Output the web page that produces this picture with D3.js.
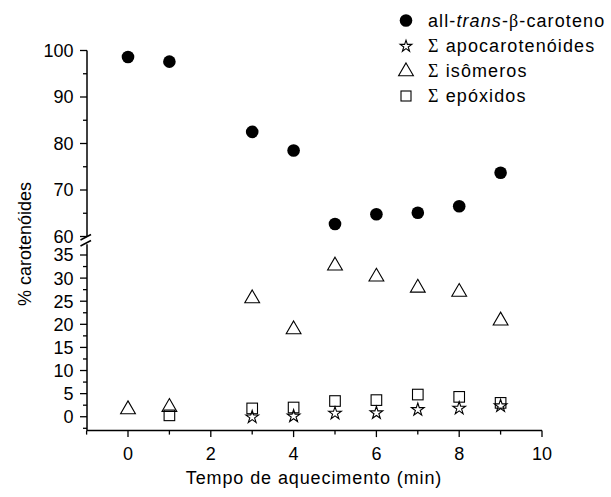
<!DOCTYPE html>
<html><head><meta charset="utf-8">
<script src="https://cdn.jsdelivr.net/npm/d3@7"></script>
<style>body{margin:0;background:#fff}svg{font-family:"Liberation Sans",Arial,sans-serif}</style>
</head><body><svg id="c" width="611" height="497"></svg>
<script>
const times = [0,1,3,4,5,6,7,8,9];
const allTrans = [98.6,97.6,82.5,78.5,62.7,64.8,65.1,66.5,73.7];
const isoX = [0,1,3,4,5,6,7,8,9];
const isomeros = [1.8,2.3,25.8,19.1,32.9,30.5,28.1,27.2,21.0];
const epoX = [1,3,4,5,6,7,8,9];
const epoxidos = [0.3,1.8,2.0,3.4,3.6,4.8,4.3,3.0];
const apoX = [3,4,5,6,7,8,9];
const apocarotenoides = [0.1,0.3,0.9,1.0,1.7,2.0,2.5];
const xTicks = [0,2,4,6,8,10];
const yTopTicks = [60,70,80,90,100];
const yBotTicks = [0,5,10,15,20,25,30,35];

const svg = d3.select("#c");
const x = d3.scaleLinear().domain([-1,10]).range([86.6,542]);
const yTop = d3.scaleLinear().domain([60,100]).range([236.5,50.5]);
const yBot = d3.scaleLinear().domain([-3,35]).range([430.6,255]);
const axisX = 87, fs = 18, ls = "1.1px";

// x axis
const gx = svg.append("g").attr("transform","translate(0,430.6)");
gx.append("line").attr("x1",x(-1)).attr("x2",x(10)).attr("stroke","#000").attr("stroke-width",1.5);
d3.range(-1,11).forEach(v=>{
  const major = v%2===0;
  gx.append("line").attr("x1",x(v)).attr("x2",x(v)).attr("y1",0).attr("y2",major?6.5:4).attr("stroke","#000").attr("stroke-width",1.3);
});
xTicks.forEach(v=>gx.append("text").attr("x",x(v)).attr("y",29.5).attr("text-anchor","middle").attr("font-size",fs).text(v));

// y top axis
const gy = svg.append("g");
gy.append("line").attr("x1",axisX).attr("x2",axisX).attr("y1",yTop(100)).attr("y2",yTop(60)).attr("stroke","#000").attr("stroke-width",1.5);
d3.range(60,101,5).forEach(v=>{
  const major = v%10===0;
  gy.append("line").attr("x1",axisX-(major?7:4)).attr("x2",axisX).attr("y1",yTop(v)).attr("y2",yTop(v)).attr("stroke","#000").attr("stroke-width",1.3);
});
yTopTicks.forEach(v=>gy.append("text").attr("x",73.5).attr("y",yTop(v)).attr("dy","0.36em").attr("text-anchor","end").attr("font-size",fs).text(v));
// y bottom axis
gy.append("line").attr("x1",axisX).attr("x2",axisX).attr("y1",yBot(-3)).attr("y2",yBot(37.3)).attr("stroke","#000").attr("stroke-width",1.5);
d3.range(-2.5,36,2.5).forEach(v=>{
  const major = Math.abs(v%5)<1e-9;
  gy.append("line").attr("x1",axisX-(major?7:4)).attr("x2",axisX).attr("y1",yBot(v)).attr("y2",yBot(v)).attr("stroke","#000").attr("stroke-width",1.3);
});
yBotTicks.forEach(v=>gy.append("text").attr("x",73.5).attr("y",yBot(v)).attr("dy","0.36em").attr("text-anchor","end").attr("font-size",fs).text(v));
// break marks
[0,6].forEach(o=>{
  gy.append("line").attr("x1",80.5).attr("y1",240+o).attr("x2",91).attr("y2",234.5+o).attr("stroke","#000").attr("stroke-width",1.5);
});

// titles
svg.append("text").attr("x",314).attr("y",484).attr("text-anchor","middle").attr("font-size",fs).attr("letter-spacing","0.9px").text("Tempo de aquecimento (min)");
svg.append("text").attr("transform","translate(31,244) rotate(-90)").attr("text-anchor","middle").attr("font-size",18).text("% carotenóides");

// marks
const star = d3.symbol().type(d3.symbolStar).size(50);
const starL = d3.symbol().type(d3.symbolStar).size(42);
const tri = d3.symbol().type(d3.symbolTriangle).size(95);
svg.append("g").selectAll("circle").data(times).join("circle")
  .attr("cx",d=>x(d)).attr("cy",(d,i)=>yTop(allTrans[i])).attr("r",6.3).attr("fill","#000");
svg.append("g").selectAll("path").data(isoX).join("path").attr("d",tri)
  .attr("transform",(d,i)=>`translate(${x(d)},${yBot(isomeros[i])+1})`).attr("fill","none").attr("stroke","#000").attr("stroke-width",1.1);
svg.append("g").selectAll("rect").data(epoX).join("rect")
  .attr("x",d=>x(d)-5.3).attr("y",(d,i)=>yBot(epoxidos[i])-5.3).attr("width",10.6).attr("height",10.6).attr("fill","none").attr("stroke","#000").attr("stroke-width",1.1);
svg.append("g").selectAll("path").data(apoX).join("path").attr("d",star)
  .attr("transform",(d,i)=>`translate(${x(d)},${yBot(apocarotenoides[i])+0.8})`).attr("fill","none").attr("stroke","#000").attr("stroke-width",1.1);

// legend
const lg = svg.append("g");
const lx = 406, tx = 428, rows=[20.5,45.5,70.5,96];
lg.append("circle").attr("cx",lx).attr("cy",rows[0]).attr("r",6.3).attr("fill","#000");
lg.append("path").attr("d",starL).attr("transform",`translate(${lx},${rows[1]+0.8})`).attr("fill","none").attr("stroke","#000").attr("stroke-width",1.1);
lg.append("path").attr("d",tri).attr("transform",`translate(${lx},${rows[2]+1})`).attr("fill","none").attr("stroke","#000").attr("stroke-width",1.1);
lg.append("rect").attr("x",lx-5).attr("y",rows[3]-5).attr("width",10).attr("height",10).attr("fill","none").attr("stroke","#000").attr("stroke-width",1.1);
const serif = '"Liberation Serif","Times New Roman",serif';
const t0 = lg.append("text").attr("x",tx).attr("y",rows[0]).attr("dy","0.36em").attr("font-size",fs).attr("letter-spacing",ls);
t0.append("tspan").text("all-");
t0.append("tspan").attr("font-style","italic").text("trans");
t0.append("tspan").text("-");
t0.append("tspan").attr("font-family",serif).text("β");
t0.append("tspan").text("-caroteno");
[["apocarotenóides",1],["isômeros",2],["epóxidos",3]].forEach(([s,i])=>{
  const t = lg.append("text").attr("x",tx).attr("y",rows[i]).attr("dy","0.36em").attr("font-size",fs).attr("letter-spacing",ls);
  t.append("tspan").attr("font-family",serif).text("Σ");
  t.append("tspan").text(" "+s);
});
</script></body></html>
